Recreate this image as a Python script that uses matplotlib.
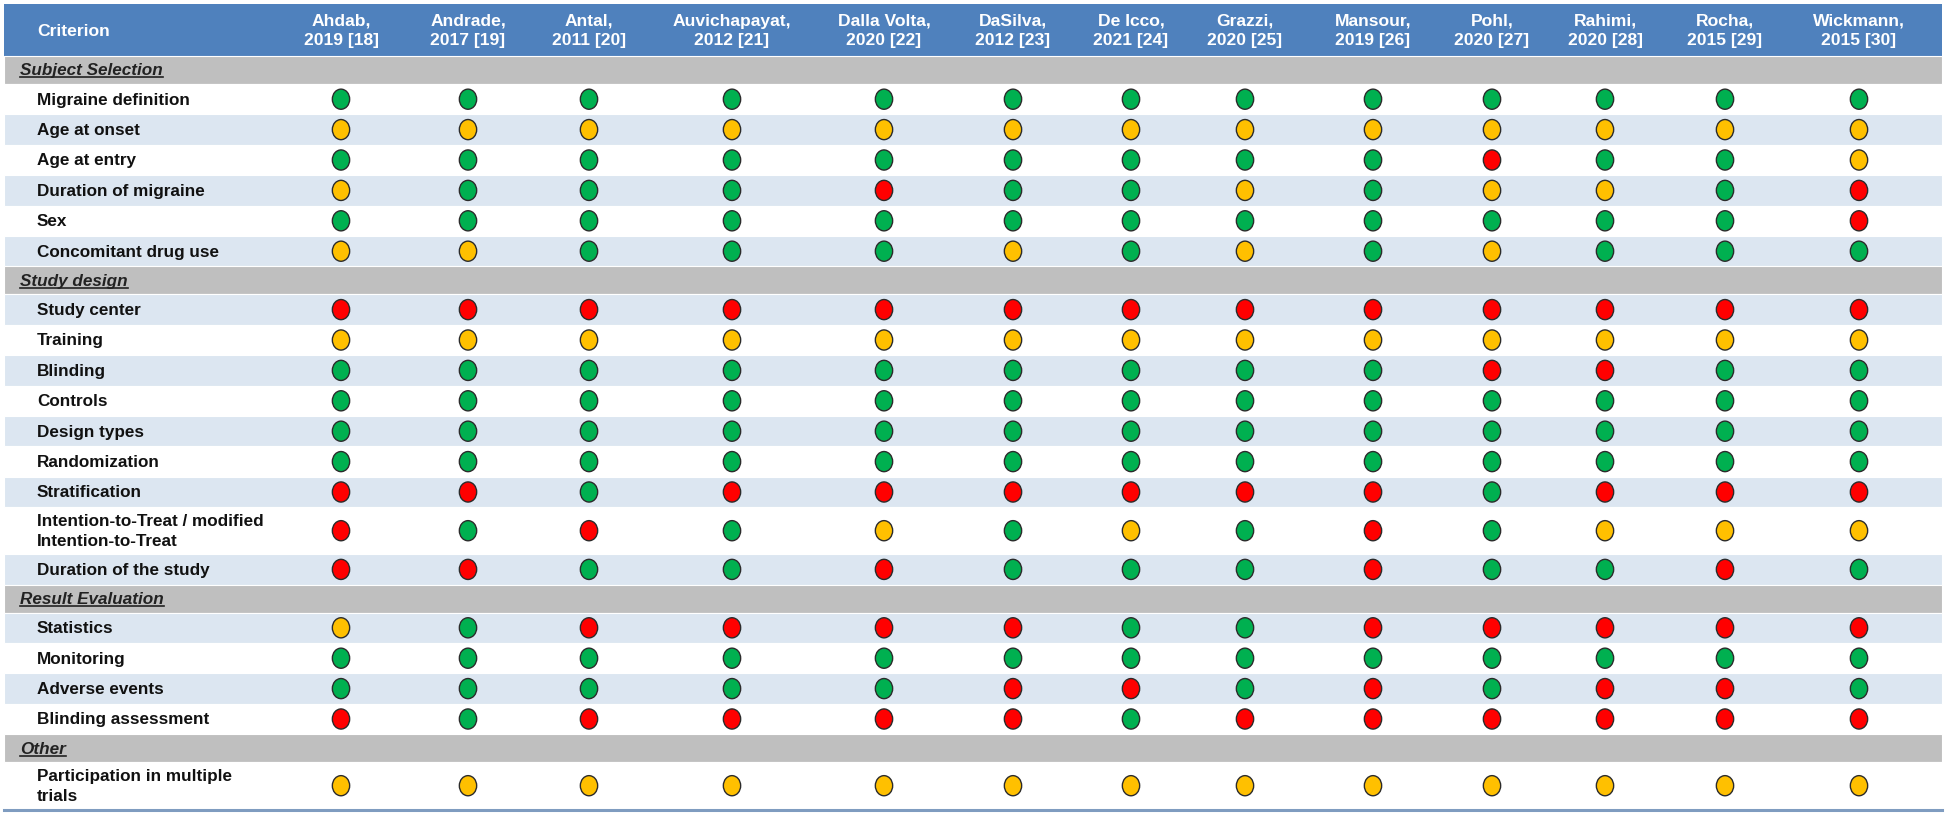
import matplotlib
matplotlib.use("Agg")
import matplotlib.pyplot as plt
from matplotlib.path import Path
from matplotlib.transforms import Affine2D
from matplotlib.markers import MarkerStyle
from matplotlib.patches import Rectangle
from matplotlib.lines import Line2D

# ---------------- data ----------------
studies = ["Ahdab,\n2019 [18]", "Andrade,\n2017 [19]", "Antal,\n2011 [20]",
           "Auvichapayat,\n2012 [21]", "Dalla Volta,\n2020 [22]", "DaSilva,\n2012 [23]",
           "De Icco,\n2021 [24]", "Grazzi,\n2020 [25]", "Mansour,\n2019 [26]",
           "Pohl,\n2020 [27]", "Rahimi,\n2020 [28]", "Rocha,\n2015 [29]",
           "Wickmann,\n2015 [30]"]

section_names = ["Subject Selection", "Study design", "Result Evaluation", "Other"]

subject_criteria = ["Migraine definition", "Age at onset", "Age at entry",
                    "Duration of migraine", "Sex", "Concomitant drug use"]
subject_ratings = ["GGGGGGGGGGGGG",
                   "YYYYYYYYYYYYY",
                   "GGGGGGGGGRGGY",
                   "YGGGRGGYGYYGR",
                   "GGGGGGGGGGGGR",
                   "YYGGGYGYGYGGG"]

design_criteria = ["Study center", "Training", "Blinding", "Controls", "Design types",
                   "Randomization", "Stratification",
                   "Intention-to-Treat / modified\nIntention-to-Treat",
                   "Duration of the study"]
design_ratings = ["RRRRRRRRRRRRR",
                  "YYYYYYYYYYYYY",
                  "GGGGGGGGGRRGG",
                  "GGGGGGGGGGGGG",
                  "GGGGGGGGGGGGG",
                  "GGGGGGGGGGGGG",
                  "RRGRRRRRRGRRR",
                  "RGRGYGYGRGYYY",
                  "RRGGRGGGRGGRG"]

result_criteria = ["Statistics", "Monitoring", "Adverse events", "Blinding assessment"]
result_ratings = ["YGRRRRGGRRRRR",
                  "GGGGGGGGGGGGG",
                  "GGGGGRRGRGRRG",
                  "RGRRRRGRRRRRR"]

other_criteria = ["Participation in multiple\ntrials"]
other_ratings = ["YYYYYYYYYYYYY"]

# ---------------- style / layout ----------------
FONT = "Liberation Sans"
rating_colors = {"G": "#00B050", "Y": "#FFC000", "R": "#FF0000"}
HEADER_BLUE = "#4F81BD"
ROW_BLUE = "#DCE6F1"
SECTION_GRAY = "#BFBFBF"

W, H = 1946, 821
TABLE_L, TABLE_R = 4, 1942
TOP = 4
HEADER_H = 52
SECTION_H = 28
ROW_H = 30.4
DOUBLE_H = 47
col_centers = [341, 468, 589, 732, 884, 1013, 1131, 1245, 1373, 1492, 1605, 1725, 1859]
FS_HEAD = 12.6
FS_ROW = 12.3

fig = plt.figure(figsize=(W / 100, H / 100), dpi=100)
ax = fig.add_axes([0, 0, 1, 1])
ax.set_xlim(0, W)
ax.set_ylim(H, 0)
ax.axis("off")

# header
ax.add_patch(Rectangle((TABLE_L, TOP), TABLE_R - TABLE_L, HEADER_H,
                       facecolor=HEADER_BLUE, edgecolor="none"))
ax.text(37, TOP + HEADER_H / 2 + 1, "Criterion", color="white", fontsize=FS_HEAD,
        fontweight="bold", family=FONT, va="center", ha="left")
for x, s in zip(col_centers, studies):
    ax.text(x, TOP + HEADER_H / 2 + 1, s, color="white", fontsize=FS_HEAD,
            fontweight="bold", family=FONT, va="center", ha="center",
            linespacing=1.4)

# ellipse marker
ell = Path.unit_circle().transformed(Affine2D().scale(0.86, 1.0))
marker = MarkerStyle(ell)

sections = [(section_names[0], subject_criteria, subject_ratings),
            (section_names[1], design_criteria, design_ratings),
            (section_names[2], result_criteria, result_ratings),
            (section_names[3], other_criteria, other_ratings)]

y = TOP + HEADER_H
idx = 0
section_texts = []
for name, crits, rats in sections:
    idx += 1
    ax.add_patch(Rectangle((TABLE_L, y), TABLE_R - TABLE_L, SECTION_H,
                           facecolor=SECTION_GRAY, edgecolor="white", lw=0.8))
    t = ax.text(20, y + SECTION_H / 2 + 1, name, color="#222222", fontsize=FS_ROW,
                fontweight="bold", fontstyle="italic", family=FONT,
                va="center", ha="left")
    section_texts.append(t)
    y += SECTION_H
    for crit, rat in zip(crits, rats):
        idx += 1
        h = DOUBLE_H if "\n" in crit else ROW_H
        fc = ROW_BLUE if idx % 2 == 1 else "white"
        ax.add_patch(Rectangle((TABLE_L, y), TABLE_R - TABLE_L, h,
                               facecolor=fc, edgecolor="white", lw=0.8))
        cy = y + h / 2
        ax.text(37, cy + 1, crit, color="#111111", fontsize=FS_ROW, fontweight="bold",
                family=FONT, va="center", ha="left", linespacing=1.45)
        ax.scatter(col_centers, [cy] * len(col_centers), marker=marker, s=210,
                   c=[rating_colors[r] for r in rat], edgecolors="#2b2b2b",
                   linewidths=1.0, zorder=3)
        y += h

# bottom rule
ax.add_line(Line2D([TABLE_L, TABLE_R], [y + 1, y + 1], color="#7F9CC0", lw=2.2))

# underline section labels
fig.canvas.draw()
inv = ax.transData.inverted()
for t in section_texts:
    bb = t.get_window_extent()
    (x0, yb), (x1, _) = inv.transform([[bb.x0, bb.y0], [bb.x1, bb.y1]])
    ax.add_line(Line2D([x0, x1], [yb - 1, yb - 1], color="#222222", lw=1.2))

fig.savefig("out.png", dpi=100)
